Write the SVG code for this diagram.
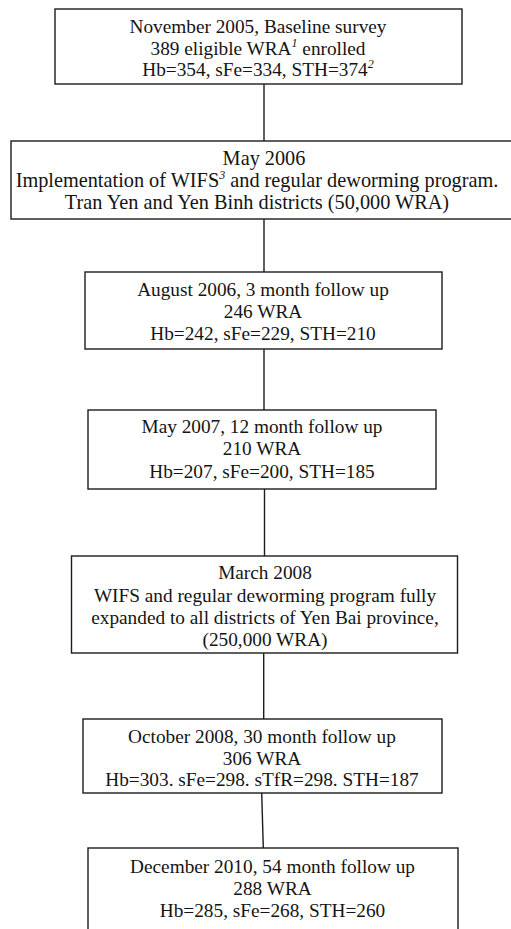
<svg xmlns="http://www.w3.org/2000/svg" width="511" height="929" viewBox="0 0 511 929">
<style>
.box{fill:#fff;stroke:#1c1c1c;stroke-width:1.4}
.t{font-family:"Liberation Serif","Times New Roman",serif;font-size:19.3px;fill:#141414;text-anchor:middle}
.big{font-size:20.3px}
.sup{font-size:12px;font-style:italic}
.conn line{stroke:#1c1c1c;stroke-width:1.4}
</style>
<rect width="511" height="929" fill="#fff"/>
<g class="conn" id="connectors">
<line x1="264" y1="84" x2="264" y2="141"/>
<line x1="264" y1="219" x2="264" y2="272"/>
<line x1="264" y1="349" x2="264" y2="410"/>
<line x1="264.5" y1="489" x2="264.5" y2="556"/>
<line x1="263.7" y1="653" x2="263.7" y2="719"/>
<line x1="261.7" y1="793" x2="263.3" y2="848"/>
</g>
<g id="n1">
<rect class="box" x="55" y="9" width="407" height="75"/>
<text class="t" x="258" y="33">November 2005, Baseline survey</text>
<text class="t" x="258" y="55">389 eligible WRA<tspan class="sup" dy="-8">1</tspan><tspan dy="8"> enrolled</tspan></text>
<text class="t" x="258" y="76">Hb=354, sFe=334, STH=374<tspan class="sup" dy="-8">2</tspan></text>
</g>
<g id="n2">
<rect class="box" x="11" y="141" width="502" height="78"/>
<text class="t big" x="264" y="165">May 2006</text>
<text class="t big" x="257" y="187">Implementation of WIFS<tspan class="sup" dy="-8">3</tspan><tspan dy="8"> and regular deworming program.</tspan></text>
<text class="t big" x="257" y="209">Tran Yen and Yen Binh districts (50,000 WRA)</text>
</g>
<g id="n3">
<rect class="box" x="85" y="272" width="357" height="77"/>
<text class="t" x="263" y="296">August 2006, 3 month follow up</text>
<text class="t" x="263" y="318">246 WRA</text>
<text class="t" x="263" y="340">Hb=242, sFe=229, STH=210</text>
</g>
<g id="n4">
<rect class="box" x="88" y="410" width="348" height="79"/>
<text class="t" x="262" y="433">May 2007, 12 month follow up</text>
<text class="t" x="262" y="455">210 WRA</text>
<text class="t" x="262" y="478">Hb=207, sFe=200, STH=185</text>
</g>
<g id="n5">
<rect class="box" x="71.5" y="556" width="386" height="97"/>
<text class="t" x="265" y="579">March 2008</text>
<text class="t" x="265" y="601.5">WIFS and regular deworming program fully</text>
<text class="t" x="265" y="623.5">expanded to all districts of Yen Bai province,</text>
<text class="t" x="265" y="646">(250,000 WRA)</text>
</g>
<g id="n6">
<rect class="box" x="83" y="719" width="359" height="74"/>
<text class="t" x="262" y="743">October 2008, 30 month follow up</text>
<text class="t" x="262" y="764.5">306 WRA</text>
<text class="t" x="262" y="786">Hb=303. sFe=298. sTfR=298. STH=187</text>
</g>
<g id="n7">
<rect class="box" x="88" y="848" width="370" height="90"/>
<text class="t" x="272.5" y="873">December 2010, 54 month follow up</text>
<text class="t" x="272.5" y="895">288 WRA</text>
<text class="t" x="272.5" y="917">Hb=285, sFe=268, STH=260</text>
</g>
</svg>
